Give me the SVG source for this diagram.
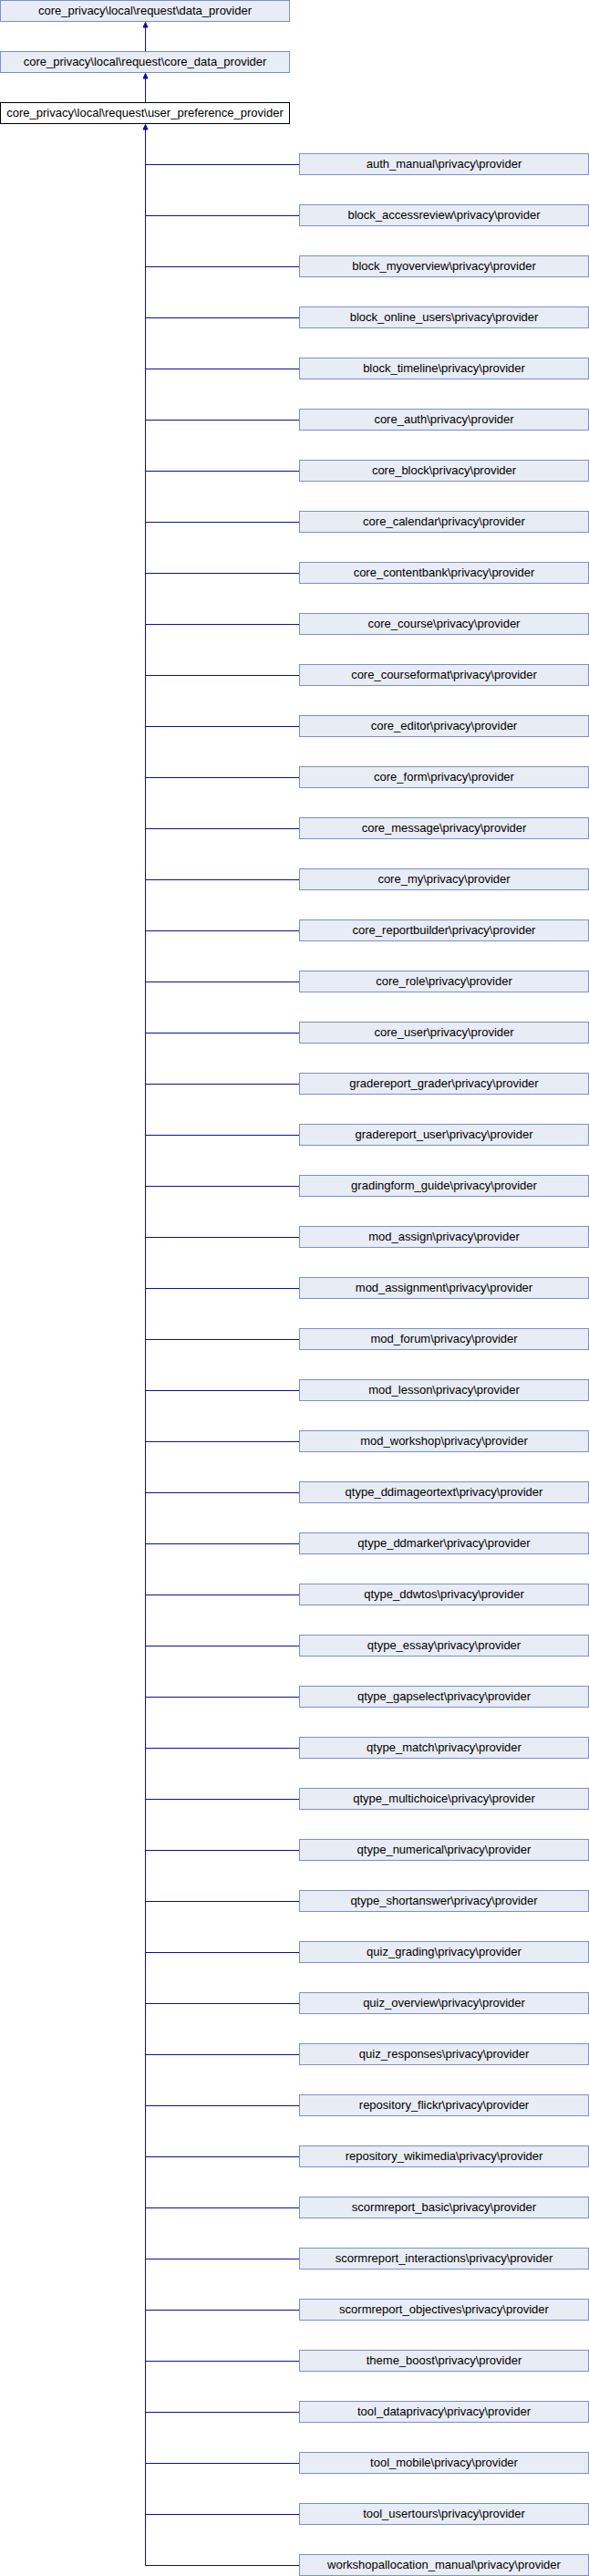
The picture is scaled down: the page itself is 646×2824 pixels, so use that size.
<svg xmlns="http://www.w3.org/2000/svg" width="646" height="2824" viewBox="0 0 646 2824">
<style>
.n rect{fill:#E8ECF5;stroke:#7C8FCB;stroke-width:1}
.cur rect{fill:#FFFFFF;stroke:#000000;stroke-width:1}
text{font-family:"Liberation Sans",Arial,sans-serif;font-size:13px;fill:#000;text-anchor:middle}
.e line{stroke:#0E0E9E;stroke-width:1}
.e polygon{fill:#0E0E9E;stroke:#0E0E9E;stroke-width:1}
</style>
<rect width="646" height="2824" fill="#fff"/>
<g id="connectors" class="e">
<line x1="159.5" y1="56.5" x2="159.5" y2="30"/>
<polygon points="159.5,24.5 157,30 162,30"/>
<line x1="159.5" y1="112.5" x2="159.5" y2="86"/>
<polygon points="159.5,80.5 157,86 162,86"/>
<line x1="159.5" y1="2812.5" x2="159.5" y2="142"/>
<polygon points="159.5,136.5 157,142 162,142"/>
<line x1="159.5" y1="180.5" x2="328.5" y2="180.5"/>
<line x1="159.5" y1="236.5" x2="328.5" y2="236.5"/>
<line x1="159.5" y1="292.5" x2="328.5" y2="292.5"/>
<line x1="159.5" y1="348.5" x2="328.5" y2="348.5"/>
<line x1="159.5" y1="404.5" x2="328.5" y2="404.5"/>
<line x1="159.5" y1="460.5" x2="328.5" y2="460.5"/>
<line x1="159.5" y1="516.5" x2="328.5" y2="516.5"/>
<line x1="159.5" y1="572.5" x2="328.5" y2="572.5"/>
<line x1="159.5" y1="628.5" x2="328.5" y2="628.5"/>
<line x1="159.5" y1="684.5" x2="328.5" y2="684.5"/>
<line x1="159.5" y1="740.5" x2="328.5" y2="740.5"/>
<line x1="159.5" y1="796.5" x2="328.5" y2="796.5"/>
<line x1="159.5" y1="852.5" x2="328.5" y2="852.5"/>
<line x1="159.5" y1="908.5" x2="328.5" y2="908.5"/>
<line x1="159.5" y1="964.5" x2="328.5" y2="964.5"/>
<line x1="159.5" y1="1020.5" x2="328.5" y2="1020.5"/>
<line x1="159.5" y1="1076.5" x2="328.5" y2="1076.5"/>
<line x1="159.5" y1="1132.5" x2="328.5" y2="1132.5"/>
<line x1="159.5" y1="1188.5" x2="328.5" y2="1188.5"/>
<line x1="159.5" y1="1244.5" x2="328.5" y2="1244.5"/>
<line x1="159.5" y1="1300.5" x2="328.5" y2="1300.5"/>
<line x1="159.5" y1="1356.5" x2="328.5" y2="1356.5"/>
<line x1="159.5" y1="1412.5" x2="328.5" y2="1412.5"/>
<line x1="159.5" y1="1468.5" x2="328.5" y2="1468.5"/>
<line x1="159.5" y1="1524.5" x2="328.5" y2="1524.5"/>
<line x1="159.5" y1="1580.5" x2="328.5" y2="1580.5"/>
<line x1="159.5" y1="1636.5" x2="328.5" y2="1636.5"/>
<line x1="159.5" y1="1692.5" x2="328.5" y2="1692.5"/>
<line x1="159.5" y1="1748.5" x2="328.5" y2="1748.5"/>
<line x1="159.5" y1="1804.5" x2="328.5" y2="1804.5"/>
<line x1="159.5" y1="1860.5" x2="328.5" y2="1860.5"/>
<line x1="159.5" y1="1916.5" x2="328.5" y2="1916.5"/>
<line x1="159.5" y1="1972.5" x2="328.5" y2="1972.5"/>
<line x1="159.5" y1="2028.5" x2="328.5" y2="2028.5"/>
<line x1="159.5" y1="2084.5" x2="328.5" y2="2084.5"/>
<line x1="159.5" y1="2140.5" x2="328.5" y2="2140.5"/>
<line x1="159.5" y1="2196.5" x2="328.5" y2="2196.5"/>
<line x1="159.5" y1="2252.5" x2="328.5" y2="2252.5"/>
<line x1="159.5" y1="2308.5" x2="328.5" y2="2308.5"/>
<line x1="159.5" y1="2364.5" x2="328.5" y2="2364.5"/>
<line x1="159.5" y1="2420.5" x2="328.5" y2="2420.5"/>
<line x1="159.5" y1="2476.5" x2="328.5" y2="2476.5"/>
<line x1="159.5" y1="2532.5" x2="328.5" y2="2532.5"/>
<line x1="159.5" y1="2588.5" x2="328.5" y2="2588.5"/>
<line x1="159.5" y1="2644.5" x2="328.5" y2="2644.5"/>
<line x1="159.5" y1="2700.5" x2="328.5" y2="2700.5"/>
<line x1="159.5" y1="2756.5" x2="328.5" y2="2756.5"/>
<line x1="159.5" y1="2812.5" x2="328.5" y2="2812.5"/>
</g>
<g id="data_provider" class="n"><rect x="0.5" y="0.5" width="317" height="23"/><text x="159" y="15.5">core_privacy\local\request\data_provider</text></g>
<g id="core_data_provider" class="n"><rect x="0.5" y="56.5" width="317" height="23"/><text x="159" y="71.5">core_privacy\local\request\core_data_provider</text></g>
<g id="user_preference_provider" class="cur"><rect x="0.5" y="112.5" width="317" height="23"/><text x="159" y="127.5">core_privacy\local\request\user_preference_provider</text></g>
<g id="auth_manual" class="n"><rect x="328.5" y="168.5" width="317" height="23"/><text x="487" y="183.5">auth_manual\privacy\provider</text></g>
<g id="block_accessreview" class="n"><rect x="328.5" y="224.5" width="317" height="23"/><text x="487" y="239.5">block_accessreview\privacy\provider</text></g>
<g id="block_myoverview" class="n"><rect x="328.5" y="280.5" width="317" height="23"/><text x="487" y="295.5">block_myoverview\privacy\provider</text></g>
<g id="block_online_users" class="n"><rect x="328.5" y="336.5" width="317" height="23"/><text x="487" y="351.5">block_online_users\privacy\provider</text></g>
<g id="block_timeline" class="n"><rect x="328.5" y="392.5" width="317" height="23"/><text x="487" y="407.5">block_timeline\privacy\provider</text></g>
<g id="core_auth" class="n"><rect x="328.5" y="448.5" width="317" height="23"/><text x="487" y="463.5">core_auth\privacy\provider</text></g>
<g id="core_block" class="n"><rect x="328.5" y="504.5" width="317" height="23"/><text x="487" y="519.5">core_block\privacy\provider</text></g>
<g id="core_calendar" class="n"><rect x="328.5" y="560.5" width="317" height="23"/><text x="487" y="575.5">core_calendar\privacy\provider</text></g>
<g id="core_contentbank" class="n"><rect x="328.5" y="616.5" width="317" height="23"/><text x="487" y="631.5">core_contentbank\privacy\provider</text></g>
<g id="core_course" class="n"><rect x="328.5" y="672.5" width="317" height="23"/><text x="487" y="687.5">core_course\privacy\provider</text></g>
<g id="core_courseformat" class="n"><rect x="328.5" y="728.5" width="317" height="23"/><text x="487" y="743.5">core_courseformat\privacy\provider</text></g>
<g id="core_editor" class="n"><rect x="328.5" y="784.5" width="317" height="23"/><text x="487" y="799.5">core_editor\privacy\provider</text></g>
<g id="core_form" class="n"><rect x="328.5" y="840.5" width="317" height="23"/><text x="487" y="855.5">core_form\privacy\provider</text></g>
<g id="core_message" class="n"><rect x="328.5" y="896.5" width="317" height="23"/><text x="487" y="911.5">core_message\privacy\provider</text></g>
<g id="core_my" class="n"><rect x="328.5" y="952.5" width="317" height="23"/><text x="487" y="967.5">core_my\privacy\provider</text></g>
<g id="core_reportbuilder" class="n"><rect x="328.5" y="1008.5" width="317" height="23"/><text x="487" y="1023.5">core_reportbuilder\privacy\provider</text></g>
<g id="core_role" class="n"><rect x="328.5" y="1064.5" width="317" height="23"/><text x="487" y="1079.5">core_role\privacy\provider</text></g>
<g id="core_user" class="n"><rect x="328.5" y="1120.5" width="317" height="23"/><text x="487" y="1135.5">core_user\privacy\provider</text></g>
<g id="gradereport_grader" class="n"><rect x="328.5" y="1176.5" width="317" height="23"/><text x="487" y="1191.5">gradereport_grader\privacy\provider</text></g>
<g id="gradereport_user" class="n"><rect x="328.5" y="1232.5" width="317" height="23"/><text x="487" y="1247.5">gradereport_user\privacy\provider</text></g>
<g id="gradingform_guide" class="n"><rect x="328.5" y="1288.5" width="317" height="23"/><text x="487" y="1303.5">gradingform_guide\privacy\provider</text></g>
<g id="mod_assign" class="n"><rect x="328.5" y="1344.5" width="317" height="23"/><text x="487" y="1359.5">mod_assign\privacy\provider</text></g>
<g id="mod_assignment" class="n"><rect x="328.5" y="1400.5" width="317" height="23"/><text x="487" y="1415.5">mod_assignment\privacy\provider</text></g>
<g id="mod_forum" class="n"><rect x="328.5" y="1456.5" width="317" height="23"/><text x="487" y="1471.5">mod_forum\privacy\provider</text></g>
<g id="mod_lesson" class="n"><rect x="328.5" y="1512.5" width="317" height="23"/><text x="487" y="1527.5">mod_lesson\privacy\provider</text></g>
<g id="mod_workshop" class="n"><rect x="328.5" y="1568.5" width="317" height="23"/><text x="487" y="1583.5">mod_workshop\privacy\provider</text></g>
<g id="qtype_ddimageortext" class="n"><rect x="328.5" y="1624.5" width="317" height="23"/><text x="487" y="1639.5">qtype_ddimageortext\privacy\provider</text></g>
<g id="qtype_ddmarker" class="n"><rect x="328.5" y="1680.5" width="317" height="23"/><text x="487" y="1695.5">qtype_ddmarker\privacy\provider</text></g>
<g id="qtype_ddwtos" class="n"><rect x="328.5" y="1736.5" width="317" height="23"/><text x="487" y="1751.5">qtype_ddwtos\privacy\provider</text></g>
<g id="qtype_essay" class="n"><rect x="328.5" y="1792.5" width="317" height="23"/><text x="487" y="1807.5">qtype_essay\privacy\provider</text></g>
<g id="qtype_gapselect" class="n"><rect x="328.5" y="1848.5" width="317" height="23"/><text x="487" y="1863.5">qtype_gapselect\privacy\provider</text></g>
<g id="qtype_match" class="n"><rect x="328.5" y="1904.5" width="317" height="23"/><text x="487" y="1919.5">qtype_match\privacy\provider</text></g>
<g id="qtype_multichoice" class="n"><rect x="328.5" y="1960.5" width="317" height="23"/><text x="487" y="1975.5">qtype_multichoice\privacy\provider</text></g>
<g id="qtype_numerical" class="n"><rect x="328.5" y="2016.5" width="317" height="23"/><text x="487" y="2031.5">qtype_numerical\privacy\provider</text></g>
<g id="qtype_shortanswer" class="n"><rect x="328.5" y="2072.5" width="317" height="23"/><text x="487" y="2087.5">qtype_shortanswer\privacy\provider</text></g>
<g id="quiz_grading" class="n"><rect x="328.5" y="2128.5" width="317" height="23"/><text x="487" y="2143.5">quiz_grading\privacy\provider</text></g>
<g id="quiz_overview" class="n"><rect x="328.5" y="2184.5" width="317" height="23"/><text x="487" y="2199.5">quiz_overview\privacy\provider</text></g>
<g id="quiz_responses" class="n"><rect x="328.5" y="2240.5" width="317" height="23"/><text x="487" y="2255.5">quiz_responses\privacy\provider</text></g>
<g id="repository_flickr" class="n"><rect x="328.5" y="2296.5" width="317" height="23"/><text x="487" y="2311.5">repository_flickr\privacy\provider</text></g>
<g id="repository_wikimedia" class="n"><rect x="328.5" y="2352.5" width="317" height="23"/><text x="487" y="2367.5">repository_wikimedia\privacy\provider</text></g>
<g id="scormreport_basic" class="n"><rect x="328.5" y="2408.5" width="317" height="23"/><text x="487" y="2423.5">scormreport_basic\privacy\provider</text></g>
<g id="scormreport_interactions" class="n"><rect x="328.5" y="2464.5" width="317" height="23"/><text x="487" y="2479.5">scormreport_interactions\privacy\provider</text></g>
<g id="scormreport_objectives" class="n"><rect x="328.5" y="2520.5" width="317" height="23"/><text x="487" y="2535.5">scormreport_objectives\privacy\provider</text></g>
<g id="theme_boost" class="n"><rect x="328.5" y="2576.5" width="317" height="23"/><text x="487" y="2591.5">theme_boost\privacy\provider</text></g>
<g id="tool_dataprivacy" class="n"><rect x="328.5" y="2632.5" width="317" height="23"/><text x="487" y="2647.5">tool_dataprivacy\privacy\provider</text></g>
<g id="tool_mobile" class="n"><rect x="328.5" y="2688.5" width="317" height="23"/><text x="487" y="2703.5">tool_mobile\privacy\provider</text></g>
<g id="tool_usertours" class="n"><rect x="328.5" y="2744.5" width="317" height="23"/><text x="487" y="2759.5">tool_usertours\privacy\provider</text></g>
<g id="workshopallocation_manual" class="n"><rect x="328.5" y="2800.5" width="317" height="23"/><text x="487" y="2815.5">workshopallocation_manual\privacy\provider</text></g>
</svg>
